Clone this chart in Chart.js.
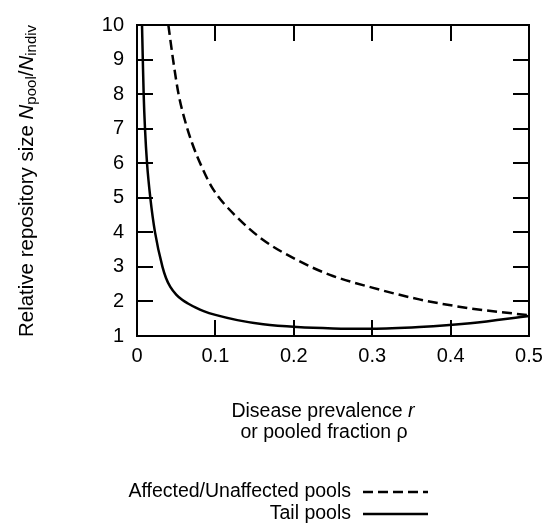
<!DOCTYPE html>
<html>
<head>
<meta charset="utf-8">
<script src="https://cdn.jsdelivr.net/npm/chart.js@4"></script>
<style>
  html, body { margin: 0; padding: 0; background: #fff; }
  #wrap { width: 545px; height: 529px; }
</style>
</head>
<body>
<div id="wrap"><canvas id="poolChart" width="545" height="529"></canvas></div>
<script>
// values
const affectedX = [0.040, 0.046, 0.053, 0.061, 0.070, 0.0825, 0.097, 0.127, 0.161, 0.204, 0.246, 0.300, 0.360, 0.425, 0.500];
const affectedY = [10, 9, 8, 7.25, 6.6, 5.9, 5.25, 4.45, 3.78, 3.2, 2.77, 2.4, 2.06, 1.8, 1.6];

const tailX = [0.0064, 0.0074, 0.0085, 0.0102, 0.0128, 0.0170, 0.023, 0.0325, 0.037, 0.0425, 0.050, 0.058, 0.065, 0.075, 0.085, 0.100, 0.128, 0.161, 0.204, 0.250, 0.300, 0.360, 0.425, 0.500];
const tailY = [10, 9, 8, 7, 6, 5, 4, 3.0, 2.68, 2.42, 2.2, 2.04, 1.94, 1.82, 1.72, 1.61, 1.46, 1.34, 1.26, 1.22, 1.21, 1.26, 1.37, 1.58];

const xTicks = [0, 0.1, 0.2, 0.3, 0.4, 0.5];
const yTicks = [1, 2, 3, 4, 5, 6, 7, 8, 9, 10];

const seriesNames = ["Affected/Unaffected pools", "Tail pools"];

const FONT = "Liberation Sans, Arial, Helvetica, sans-serif";
const DASH = [10, 5];

function toPoints(xs, ys) {
  return xs.map((x, i) => ({ x: x, y: ys[i] }));
}

// frame, inward ticks on all four sides, axis titles and the legend
const decorations = {
  id: "decorations",
  afterDraw(chart) {
    const ctx = chart.ctx;
    const area = chart.chartArea;
    const xs = chart.scales.x;
    const ys = chart.scales.y;
    const tick = 16;

    ctx.save();
    ctx.strokeStyle = "#000";
    ctx.lineWidth = 2;
    ctx.setLineDash([]);
    ctx.beginPath();
    xTicks.forEach((v) => {
      const px = Math.round(xs.getPixelForValue(v));
      ctx.moveTo(px, area.bottom);
      ctx.lineTo(px, area.bottom - tick);
      ctx.moveTo(px, area.top);
      ctx.lineTo(px, area.top + tick);
    });
    yTicks.forEach((v) => {
      const py = Math.round(ys.getPixelForValue(v));
      ctx.moveTo(area.left, py);
      ctx.lineTo(area.left + tick, py);
      ctx.moveTo(area.right, py);
      ctx.lineTo(area.right - tick, py);
    });
    ctx.stroke();
    ctx.strokeRect(area.left, area.top, area.right - area.left, area.bottom - area.top);

    ctx.fillStyle = "#000";
    ctx.textBaseline = "middle";

    // x axis title, two lines
    const cx = 323;
    const l1a = "Disease prevalence ";
    ctx.font = "19.5px " + FONT;
    const wa = ctx.measureText(l1a).width;
    ctx.font = "italic 19.5px " + FONT;
    const wr = ctx.measureText("r").width;
    const sx = cx - (wa + wr) / 2;
    ctx.textAlign = "left";
    ctx.font = "19.5px " + FONT;
    ctx.fillText(l1a, sx, 412);
    ctx.font = "italic 19.5px " + FONT;
    ctx.fillText("r", sx + wa, 412);
    ctx.textAlign = "center";
    ctx.font = "19.5px " + FONT;
    ctx.fillText("or pooled fraction \u03c1", cx + 1, 433);

    // y axis title with subscripts, rotated
    const parts = [
      { t: "Relative repository size ", f: "20.5px ", dy: 0 },
      { t: "N", f: "italic 20.5px ", dy: 0 },
      { t: "pool", f: "15px ", dy: 5 },
      { t: "/", f: "20.5px ", dy: 0 },
      { t: "N", f: "italic 20.5px ", dy: 0 },
      { t: "indiv", f: "15px ", dy: 5 },
    ];
    let total = 0;
    parts.forEach((p) => {
      ctx.font = p.f + FONT;
      p.w = ctx.measureText(p.t).width;
      total += p.w;
    });
    ctx.translate(27, 181);
    ctx.rotate(-Math.PI / 2);
    ctx.textAlign = "left";
    let px = -total / 2;
    parts.forEach((p) => {
      ctx.font = p.f + FONT;
      ctx.fillText(p.t, px, p.dy);
      px += p.w;
    });
    ctx.setTransform(1, 0, 0, 1, 0, 0);

    // legend: text right aligned, sample line on the right
    ctx.font = "19.5px " + FONT;
    ctx.textAlign = "right";
    const rows = [492, 514];
    chart.data.datasets.forEach((ds, i) => {
      ctx.fillText(ds.label, 351, rows[i]);
      ctx.beginPath();
      ctx.lineWidth = 2.5;
      ctx.setLineDash(ds.borderDash || []);
      ctx.moveTo(363, rows[i]);
      ctx.lineTo(428, rows[i]);
      ctx.stroke();
    });
    ctx.restore();
  },
};

const ctx = document.getElementById("poolChart").getContext("2d");
new Chart(ctx, {
  type: "line",
  data: {
    datasets: [
      {
        label: seriesNames[0],
        data: toPoints(affectedX, affectedY),
        borderColor: "#000",
        borderWidth: 2.5,
        borderDash: DASH,
        pointRadius: 0,
        cubicInterpolationMode: "monotone",
        fill: false,
      },
      {
        label: seriesNames[1],
        data: toPoints(tailX, tailY),
        borderColor: "#000",
        borderWidth: 2.5,
        pointRadius: 0,
        cubicInterpolationMode: "monotone",
        fill: false,
      },
    ],
  },
  options: {
    responsive: false,
    animation: false,
    layout: { padding: { left: 0, top: 25, right: 16, bottom: 163 } },
    plugins: {
      legend: { display: false },
      tooltip: { enabled: false },
    },
    scales: {
      x: {
        type: "linear",
        min: 0,
        max: 0.5,
        afterFit: (scale) => {
          scale.height = 30;
          scale.paddingLeft = 0;
          scale.paddingRight = 0;
        },
        afterBuildTicks: (scale) => { scale.ticks = xTicks.map((v) => ({ value: v })); },
        grid: { display: false, drawTicks: false },
        border: { display: false },
        ticks: {
          color: "#000",
          padding: 8,
          maxRotation: 0,
          font: { family: FONT, size: 20 },
          callback: (v) => String(v),
        },
      },
      y: {
        type: "linear",
        min: 1,
        max: 10,
        afterFit: (scale) => {
          scale.width = 137;
          scale.paddingTop = 0;
          scale.paddingBottom = 0;
        },
        afterBuildTicks: (scale) => { scale.ticks = yTicks.map((v) => ({ value: v })); },
        grid: { display: false, drawTicks: false },
        border: { display: false },
        ticks: {
          color: "#000",
          padding: 13,
          font: { family: FONT, size: 20 },
          callback: (v) => String(v),
        },
      },
    },
  },
  plugins: [decorations],
});
</script>
</body>
</html>
